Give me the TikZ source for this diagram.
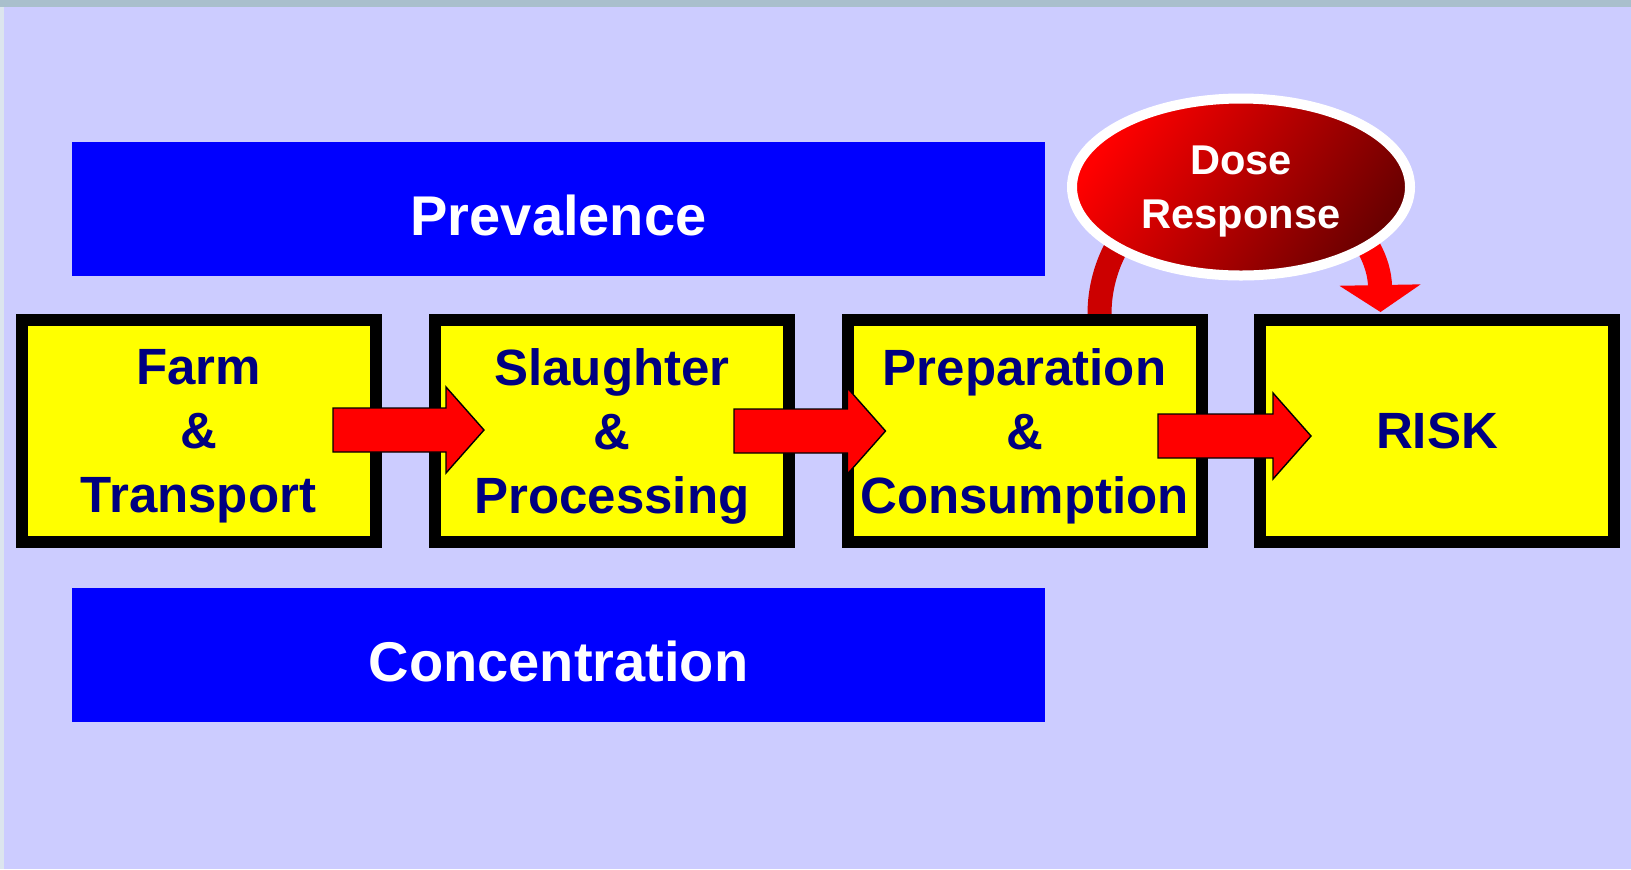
\documentclass[tikz,border=0pt]{standalone}
\usepackage{fontspec}
\setmainfont{Liberation Sans}
\usetikzlibrary{calc,shapes.geometric,arrows.meta}
\definecolor{lav}{HTML}{CCCCFF}
\definecolor{topstripc}{HTML}{A9BFCC}
\definecolor{leftstripc}{HTML}{DCE5EE}
\definecolor{barblue}{HTML}{0000FF}
\definecolor{boxyellow}{HTML}{FFFF00}
\definecolor{navytext}{HTML}{000080}
\definecolor{arrred}{HTML}{FF0000}
\definecolor{banddark}{HTML}{CC0000}
\definecolor{doselight}{HTML}{FF0000}
\definecolor{dosedark}{HTML}{6A0000}
\pgfdeclarelayer{back}
\pgfdeclarelayer{mid}
\pgfsetlayers{back,mid,main}
\newcommand{\flowarrow}[2]{%
  \draw[flowarr] ($(#1)+(0,-22)$) -- ($(#2)+(-38,-22)$) -- ($(#2)+(-38,-43)$)
    -- (#2) -- ($(#2)+(-38,43)$) -- ($(#2)+(-38,22)$) -- ($(#1)+(0,22)$) -- cycle;}
\begin{document}
\begin{tikzpicture}[x=0.5pt,y=-0.5pt,
  bluebar/.style={rectangle, fill=barblue, minimum width=486.5pt, minimum height=67pt,
    inner sep=0pt, outer sep=0pt, text=white, font=\bfseries\fontsize{28}{34}\selectfont,
    text height=26.5pt, text depth=0pt},
  stage/.style={rectangle, draw=black, line width=6pt, fill=boxyellow,
    minimum width=177pt, minimum height=111pt, inner sep=0pt, outer sep=0pt,
    align=center, text=navytext, font=\bfseries\fontsize{25.5}{32}\selectfont, text depth=0pt},
  dosestyle/.style={ellipse, draw=white, line width=5pt, top color=doselight,
    bottom color=dosedark, shading angle=55, minimum width=169pt, minimum height=88.5pt,
    inner sep=0pt, outer sep=0pt, align=center, text=white,
    font=\bfseries\fontsize{20.8}{27}\selectfont, text depth=0pt},
  flowarr/.style={fill=arrred, draw=black, line width=0.7pt, line join=miter},
  band/.style={line width=12pt, line cap=butt}
]
\useasboundingbox (0,0) rectangle (1631,869);
\begin{pgfonlayer}{back}
  \fill[lav] (0,0) rectangle (1631,869);
  \fill[topstripc] (0,0) rectangle (1631,7);
  \fill[leftstripc] (0,7) rectangle (4,869);
\end{pgfonlayer}

\node[bluebar] (prev) at (558.5,209) {Prevalence};
\node[bluebar] (conc) at (558.5,654.5) {Concentration};

\node[stage] (farm) at (198.5,431) {Farm\\\&\\Transport};
\node[stage] (slaughter) at (612,431) {Slaughter\\\&\\Processing};
\node[stage] (prep) at (1024.5,431) {Preparation\\\&\\Consumption};
\node[stage] (risk) at (1437,431) {RISK};

\coordinate (t1) at ($(farm.east)+(-42.5,-1)$);
\coordinate (h1) at ($(slaughter.west)+(49,-1)$);
\coordinate (t2) at ($(slaughter.east)+(-55,0)$);
\coordinate (h2) at ($(prep.west)+(38,0)$);
\coordinate (t3) at ($(prep.east)+(-43.5,5)$);
\coordinate (h3) at ($(risk.west)+(51,5)$);
\flowarrow{t1}{h1}
\flowarrow{t2}{h2}
\flowarrow{t3}{h3}

\node[dosestyle] (dose) at (1241,187) {Dose\\Response};

\begin{pgfonlayer}{mid}
  \draw[band, draw=banddark] ($(prep.north)+(75,-6)$) arc[start angle=180, end angle=272, radius=140.5];
  \draw[band, draw=arrred, -{Triangle[width=40pt,length=13.5pt]}] ($(dose.center)+(-1,-13)$) arc[start angle=270, end angle=359, radius=140.5];
\end{pgfonlayer}
\end{tikzpicture}
\end{document}
